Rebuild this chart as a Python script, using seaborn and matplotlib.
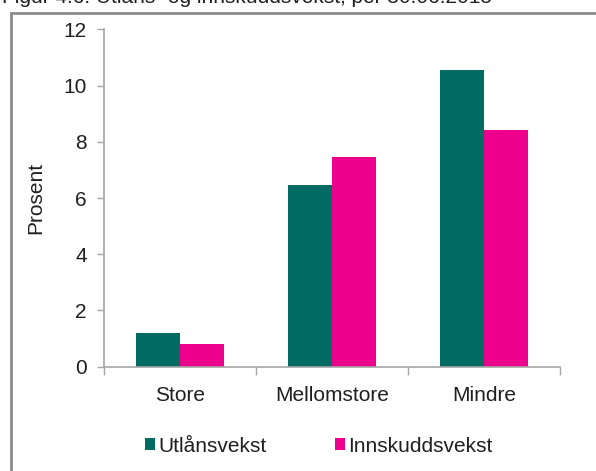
import matplotlib
matplotlib.use("Agg")
import matplotlib.pyplot as plt
from matplotlib.patches import Rectangle
import pandas as pd
import seaborn as sns

categories = ["Store", "Mellomstore", "Mindre"]
series = ["Utlånsvekst", "Innskuddsvekst"]
utlan = [1.21, 6.46, 10.57]
innskudd = [0.80, 7.47, 8.42]
colors = {"Utlånsvekst": "#006b62", "Innskuddsvekst": "#ec008c"}

df = pd.DataFrame({
    "kategori": categories * 2,
    "serie": [series[0]] * 3 + [series[1]] * 3,
    "verdi": utlan + innskudd,
})

sns.set_style("white")
plt.rcParams["font.family"] = ["Liberation Sans", "DejaVu Sans"]
FS = 15
TXT = "#1f1f1f"
GRID = "#a6a6a6"

fig = plt.figure(figsize=(5.96, 4.71), dpi=100)
ax = fig.add_axes([0.1745, 0.2214, 0.765, 0.7164])

sns.barplot(data=df, x="kategori", y="verdi", hue="serie", palette=colors,
            saturation=1, width=0.58, errorbar=None, linewidth=0, ax=ax)

ax.set_ylim(0, 12)
ax.set_xlim(-0.5, 2.5)
ax.set_yticks(range(0, 13, 2))
ax.set_xlabel("")
ax.set_ylabel("Prosent", fontsize=FS, color=TXT, labelpad=13)

for s in ["top", "right"]:
    ax.spines[s].set_visible(False)
for s in ["left", "bottom"]:
    ax.spines[s].set_color(GRID)
    ax.spines[s].set_linewidth(1.2)

ax.tick_params(axis="y", left=True, length=5, width=1, color=GRID,
               labelsize=FS, labelcolor=TXT, pad=7.5)
ax.tick_params(axis="x", which="major", length=0, labelsize=FS,
               labelcolor=TXT, pad=14)
ax.set_xticks([-0.5, 0.5, 1.5, 2.5], minor=True)
ax.tick_params(axis="x", which="minor", bottom=True, length=6, width=1,
               color=GRID)

sns.move_legend(ax, "center left", bbox_to_anchor=(145 / 596, 1 - 446 / 471),
                bbox_transform=fig.transFigure, ncol=2, frameon=False,
                title=None, fontsize=FS, borderpad=0, borderaxespad=0,
                handlelength=0.48, handleheight=0.48, handletextpad=0.15,
                columnspacing=3.3)
for t in ax.get_legend().get_texts():
    t.set_color(TXT)

# outer frame of the figure panel, cut at the right and bottom edges
fig.patches.append(Rectangle((11 / 596, -0.1), 1.2, 1.1 - 13 / 471,
                             transform=fig.transFigure, fill=False,
                             edgecolor="#8c8c8c", linewidth=2))

fig.text(2 / 596, 1 - 3 / 471, "Figur 4.6: Utlåns- og innskuddsvekst, per 30.06.2015",
         fontsize=FS, color=TXT, va="baseline", ha="left")

fig.savefig("out.png", dpi=100)
